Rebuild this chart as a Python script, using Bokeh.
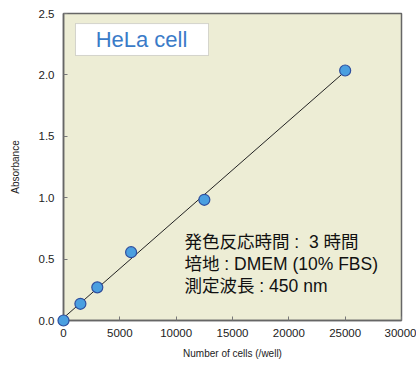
import numpy as np
from bokeh.plotting import figure
from bokeh.models import Label, BoxAnnotation, FixedTicker, PrintfTickFormatter, Range1d
from bokeh.embed import file_html
from bokeh.resources import INLINE

cells = [0, 1500, 3000, 6000, 12500, 25000]
absorbance = [0.0, 0.136, 0.27, 0.556, 0.983, 2.036]
x_ticks = [0, 5000, 10000, 15000, 20000, 25000, 30000]
y_ticks = [0.0, 0.5, 1.0, 1.5, 2.0, 2.5]
title_text = "HeLa cell"
notes = ["発色反応時間 :\u00a0\u00a03 時間", "培地 : DMEM (10% FBS)", "測定波長 : 450 nm"]

FONT = "'Liberation Sans', Arial, sans-serif"
MIX = "'Liberation Sans', 'Noto Sans CJK JP', sans-serif"

p = figure(width=416, height=365, output_backend="svg", toolbar_location=None,
           x_range=Range1d(0, 30000), y_range=Range1d(0, 2.5),
           min_border_left=63, min_border_right=15, min_border_top=13, min_border_bottom=45)
p.background_fill_color = "#EDEDD5"
p.border_fill_color = "white"
p.outline_line_color = "#666666"
p.outline_line_width = 1.5
p.grid.visible = False

for ax in (p.xaxis[0], p.yaxis[0]):
    ax.axis_line_color = "#666666"
    ax.axis_line_width = 1.5
    ax.major_tick_in = 4
    ax.major_tick_out = 0
    ax.major_tick_line_color = "#777777"
    ax.minor_tick_line_color = None
    ax.major_label_text_font = FONT
    ax.major_label_text_font_size = "11.5px"
    ax.major_label_text_color = "#222222"
    ax.axis_label_text_font = FONT
    ax.axis_label_text_font_size = "10px"
    ax.axis_label_text_font_style = "normal"
    ax.axis_label_text_color = "#222222"

p.xaxis.ticker = FixedTicker(ticks=x_ticks)
p.xaxis.formatter = PrintfTickFormatter(format="%d")
p.yaxis.ticker = FixedTicker(ticks=y_ticks)
p.yaxis.formatter = PrintfTickFormatter(format="%.1f")
p.xaxis.axis_label = "Number of cells (/well)"
p.yaxis.axis_label = "Absorbance"
p.xaxis.major_label_standoff = 8
p.yaxis.major_label_standoff = 9
p.xaxis.axis_label_standoff = 8
p.yaxis.axis_label_standoff = 15

slope, intercept = np.polyfit(cells, absorbance, 1)
lx = np.array([min(cells), max(cells)])
p.line(lx, slope * lx + intercept, line_color="#222222", line_width=1)
p.scatter(cells, absorbance, size=11, fill_color="#4A9FE0", line_color="#2E4E9E",
          line_width=1.2, level="overlay")

p.add_layout(BoxAnnotation(left=1065, right=12870, bottom=2.158, top=2.418,
                           fill_color="white", fill_alpha=1.0,
                           line_color="#888888", line_width=1))
p.add_layout(Label(x=6923, y=2.288, text=title_text, text_align="center", text_baseline="middle",
                   text_font=FONT, text_font_size="22px", text_color="#3A7BC8"))

ys = [0.64, 0.46, 0.28]
for t, yy in zip(notes, ys):
    p.add_layout(Label(x=10740, y=yy, text=t, text_align="left", text_baseline="middle",
                       text_font=MIX, text_font_size="17.5px", text_color="#111111"))

open("out.html", "w").write(file_html(p, INLINE))
